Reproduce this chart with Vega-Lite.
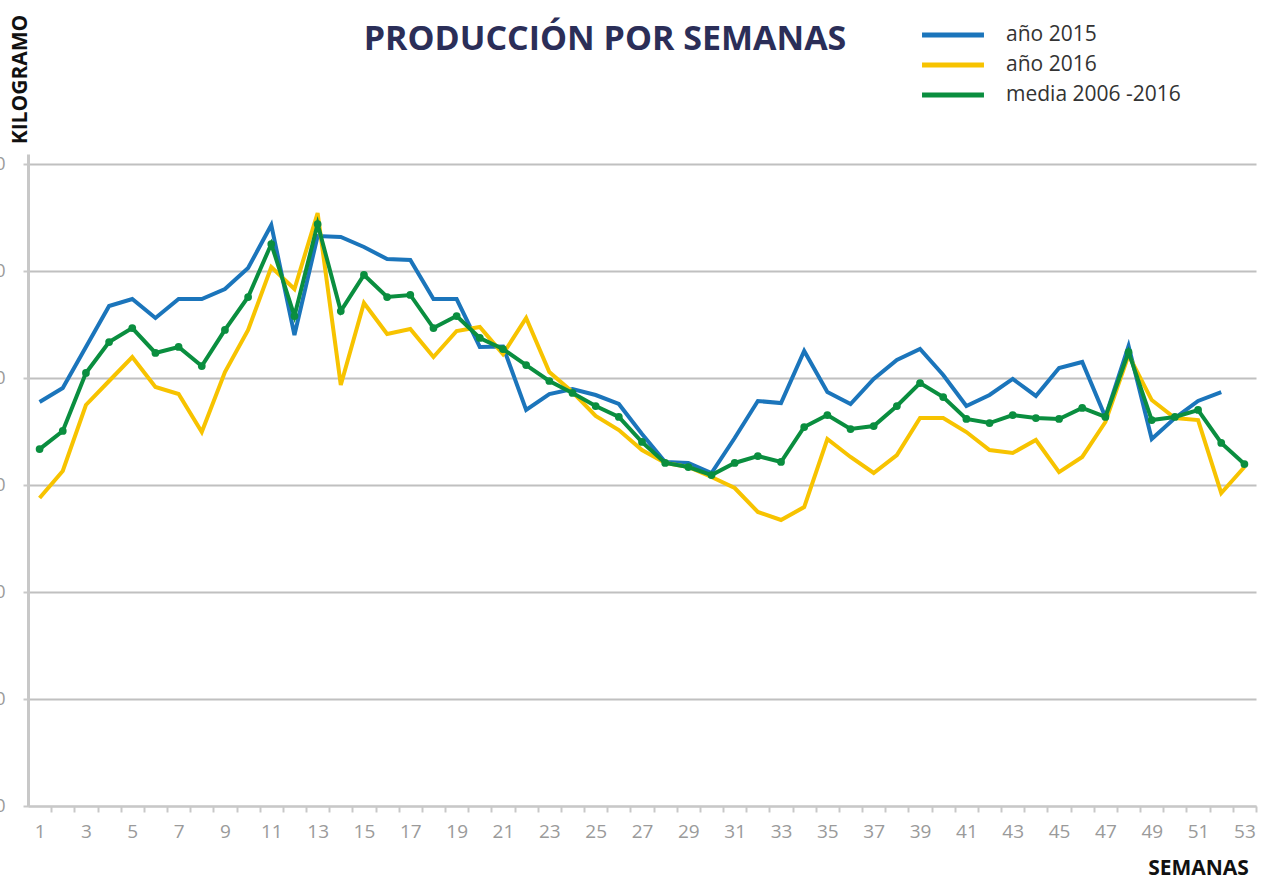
{
  "$schema": "https://vega.github.io/schema/vega-lite/v6.json",
  "width": 1228,
  "height": 652,
  "autosize": {"type": "none"},
  "padding": {"left": 28, "top": 154, "right": 18, "bottom": 75},
  "background": "white",
  "title": {
    "text": "PRODUCCIÓN POR SEMANAS",
    "anchor": "middle",
    "frame": "group",
    "offset": -70,
    "dx": -37,
    "baseline": "alphabetic",
    "font": "Open Sans",
    "fontSize": 34,
    "fontWeight": "bold",
    "color": "#2b2e58"
  },
  "data": {
    "values": [
      {"semana": 1, "serie": "año 2015", "valor": 377.6},
      {"semana": 2, "serie": "año 2015", "valor": 390.7},
      {"semana": 3, "serie": "año 2015", "valor": 429.0},
      {"semana": 4, "serie": "año 2015", "valor": 467.3},
      {"semana": 5, "serie": "año 2015", "valor": 473.8},
      {"semana": 6, "serie": "año 2015", "valor": 456.1},
      {"semana": 7, "serie": "año 2015", "valor": 473.8},
      {"semana": 8, "serie": "año 2015", "valor": 473.8},
      {"semana": 9, "serie": "año 2015", "valor": 483.2},
      {"semana": 10, "serie": "año 2015", "valor": 502.8},
      {"semana": 11, "serie": "año 2015", "valor": 543.0},
      {"semana": 12, "serie": "año 2015", "valor": 440.2},
      {"semana": 13, "serie": "año 2015", "valor": 532.7},
      {"semana": 14, "serie": "año 2015", "valor": 531.8},
      {"semana": 15, "serie": "año 2015", "valor": 522.4},
      {"semana": 16, "serie": "año 2015", "valor": 511.2},
      {"semana": 17, "serie": "año 2015", "valor": 510.3},
      {"semana": 18, "serie": "año 2015", "valor": 473.8},
      {"semana": 19, "serie": "año 2015", "valor": 473.8},
      {"semana": 20, "serie": "año 2015", "valor": 429.0},
      {"semana": 21, "serie": "año 2015", "valor": 429.5},
      {"semana": 22, "serie": "año 2015", "valor": 370.1},
      {"semana": 23, "serie": "año 2015", "valor": 385.0},
      {"semana": 24, "serie": "año 2015", "valor": 389.7},
      {"semana": 25, "serie": "año 2015", "valor": 384.1},
      {"semana": 26, "serie": "año 2015", "valor": 375.7},
      {"semana": 27, "serie": "año 2015", "valor": 347.7},
      {"semana": 28, "serie": "año 2015", "valor": 321.5},
      {"semana": 29, "serie": "año 2015", "valor": 320.6},
      {"semana": 30, "serie": "año 2015", "valor": 311.2},
      {"semana": 31, "serie": "año 2015", "valor": 343.9},
      {"semana": 32, "serie": "año 2015", "valor": 378.5},
      {"semana": 33, "serie": "año 2015", "valor": 376.6},
      {"semana": 34, "serie": "año 2015", "valor": 425.2},
      {"semana": 35, "serie": "año 2015", "valor": 386.9},
      {"semana": 36, "serie": "año 2015", "valor": 375.7},
      {"semana": 37, "serie": "año 2015", "valor": 399.1},
      {"semana": 38, "serie": "año 2015", "valor": 416.8},
      {"semana": 39, "serie": "año 2015", "valor": 427.1},
      {"semana": 40, "serie": "año 2015", "valor": 402.8},
      {"semana": 41, "serie": "año 2015", "valor": 373.8},
      {"semana": 42, "serie": "año 2015", "valor": 384.1},
      {"semana": 43, "serie": "año 2015", "valor": 399.1},
      {"semana": 44, "serie": "año 2015", "valor": 383.2},
      {"semana": 45, "serie": "año 2015", "valor": 409.3},
      {"semana": 46, "serie": "año 2015", "valor": 415.0},
      {"semana": 47, "serie": "año 2015", "valor": 363.6},
      {"semana": 48, "serie": "año 2015", "valor": 429.9},
      {"semana": 49, "serie": "año 2015", "valor": 343.0},
      {"semana": 50, "serie": "año 2015", "valor": 362.6},
      {"semana": 51, "serie": "año 2015", "valor": 378.5},
      {"semana": 52, "serie": "año 2015", "valor": 386.9},
      {"semana": 1, "serie": "año 2016", "valor": 287.9},
      {"semana": 2, "serie": "año 2016", "valor": 313.1},
      {"semana": 3, "serie": "año 2016", "valor": 374.8},
      {"semana": 4, "serie": "año 2016", "valor": 397.2},
      {"semana": 5, "serie": "año 2016", "valor": 419.6},
      {"semana": 6, "serie": "año 2016", "valor": 391.6},
      {"semana": 7, "serie": "año 2016", "valor": 385.0},
      {"semana": 8, "serie": "año 2016", "valor": 349.5},
      {"semana": 9, "serie": "año 2016", "valor": 405.6},
      {"semana": 10, "serie": "año 2016", "valor": 444.9},
      {"semana": 11, "serie": "año 2016", "valor": 503.7},
      {"semana": 12, "serie": "año 2016", "valor": 483.2},
      {"semana": 13, "serie": "año 2016", "valor": 554.2},
      {"semana": 14, "serie": "año 2016", "valor": 393.5},
      {"semana": 15, "serie": "año 2016", "valor": 470.1},
      {"semana": 16, "serie": "año 2016", "valor": 441.1},
      {"semana": 17, "serie": "año 2016", "valor": 445.8},
      {"semana": 18, "serie": "año 2016", "valor": 419.6},
      {"semana": 19, "serie": "año 2016", "valor": 443.9},
      {"semana": 20, "serie": "año 2016", "valor": 447.7},
      {"semana": 21, "serie": "año 2016", "valor": 422.4},
      {"semana": 22, "serie": "año 2016", "valor": 456.1},
      {"semana": 23, "serie": "año 2016", "valor": 405.6},
      {"semana": 24, "serie": "año 2016", "valor": 386.9},
      {"semana": 25, "serie": "año 2016", "valor": 364.5},
      {"semana": 26, "serie": "año 2016", "valor": 351.4},
      {"semana": 27, "serie": "año 2016", "valor": 332.7},
      {"semana": 28, "serie": "año 2016", "valor": 320.6},
      {"semana": 29, "serie": "año 2016", "valor": 316.8},
      {"semana": 30, "serie": "año 2016", "valor": 307.5},
      {"semana": 31, "serie": "año 2016", "valor": 297.2},
      {"semana": 32, "serie": "año 2016", "valor": 274.8},
      {"semana": 33, "serie": "año 2016", "valor": 267.3},
      {"semana": 34, "serie": "año 2016", "valor": 279.4},
      {"semana": 35, "serie": "año 2016", "valor": 343.0},
      {"semana": 36, "serie": "año 2016", "valor": 326.2},
      {"semana": 37, "serie": "año 2016", "valor": 311.2},
      {"semana": 38, "serie": "año 2016", "valor": 328.0},
      {"semana": 39, "serie": "año 2016", "valor": 362.6},
      {"semana": 40, "serie": "año 2016", "valor": 362.6},
      {"semana": 41, "serie": "año 2016", "valor": 349.5},
      {"semana": 42, "serie": "año 2016", "valor": 332.7},
      {"semana": 43, "serie": "año 2016", "valor": 329.9},
      {"semana": 44, "serie": "año 2016", "valor": 342.1},
      {"semana": 45, "serie": "año 2016", "valor": 312.1},
      {"semana": 46, "serie": "año 2016", "valor": 326.2},
      {"semana": 47, "serie": "año 2016", "valor": 358.9},
      {"semana": 48, "serie": "año 2016", "valor": 421.5},
      {"semana": 49, "serie": "año 2016", "valor": 379.4},
      {"semana": 50, "serie": "año 2016", "valor": 362.6},
      {"semana": 51, "serie": "año 2016", "valor": 360.7},
      {"semana": 52, "serie": "año 2016", "valor": 292.5},
      {"semana": 53, "serie": "año 2016", "valor": 316.8},
      {"semana": 1, "serie": "media 2006 -2016", "valor": 333.6},
      {"semana": 2, "serie": "media 2006 -2016", "valor": 350.5},
      {"semana": 3, "serie": "media 2006 -2016", "valor": 404.7},
      {"semana": 4, "serie": "media 2006 -2016", "valor": 433.6},
      {"semana": 5, "serie": "media 2006 -2016", "valor": 446.7},
      {"semana": 6, "serie": "media 2006 -2016", "valor": 423.4},
      {"semana": 7, "serie": "media 2006 -2016", "valor": 429.0},
      {"semana": 8, "serie": "media 2006 -2016", "valor": 411.2},
      {"semana": 9, "serie": "media 2006 -2016", "valor": 444.9},
      {"semana": 10, "serie": "media 2006 -2016", "valor": 475.7},
      {"semana": 11, "serie": "media 2006 -2016", "valor": 525.2},
      {"semana": 12, "serie": "media 2006 -2016", "valor": 457.9},
      {"semana": 13, "serie": "media 2006 -2016", "valor": 543.9},
      {"semana": 14, "serie": "media 2006 -2016", "valor": 462.6},
      {"semana": 15, "serie": "media 2006 -2016", "valor": 496.3},
      {"semana": 16, "serie": "media 2006 -2016", "valor": 475.7},
      {"semana": 17, "serie": "media 2006 -2016", "valor": 477.6},
      {"semana": 18, "serie": "media 2006 -2016", "valor": 446.7},
      {"semana": 19, "serie": "media 2006 -2016", "valor": 457.9},
      {"semana": 20, "serie": "media 2006 -2016", "valor": 437.4},
      {"semana": 21, "serie": "media 2006 -2016", "valor": 427.1},
      {"semana": 22, "serie": "media 2006 -2016", "valor": 412.1},
      {"semana": 23, "serie": "media 2006 -2016", "valor": 397.2},
      {"semana": 24, "serie": "media 2006 -2016", "valor": 386.0},
      {"semana": 25, "serie": "media 2006 -2016", "valor": 373.8},
      {"semana": 26, "serie": "media 2006 -2016", "valor": 363.6},
      {"semana": 27, "serie": "media 2006 -2016", "valor": 340.2},
      {"semana": 28, "serie": "media 2006 -2016", "valor": 320.6},
      {"semana": 29, "serie": "media 2006 -2016", "valor": 316.8},
      {"semana": 30, "serie": "media 2006 -2016", "valor": 309.3},
      {"semana": 31, "serie": "media 2006 -2016", "valor": 320.6},
      {"semana": 32, "serie": "media 2006 -2016", "valor": 327.1},
      {"semana": 33, "serie": "media 2006 -2016", "valor": 321.5},
      {"semana": 34, "serie": "media 2006 -2016", "valor": 354.2},
      {"semana": 35, "serie": "media 2006 -2016", "valor": 365.4},
      {"semana": 36, "serie": "media 2006 -2016", "valor": 352.3},
      {"semana": 37, "serie": "media 2006 -2016", "valor": 355.1},
      {"semana": 38, "serie": "media 2006 -2016", "valor": 373.8},
      {"semana": 39, "serie": "media 2006 -2016", "valor": 395.3},
      {"semana": 40, "serie": "media 2006 -2016", "valor": 382.2},
      {"semana": 41, "serie": "media 2006 -2016", "valor": 361.7},
      {"semana": 42, "serie": "media 2006 -2016", "valor": 357.9},
      {"semana": 43, "serie": "media 2006 -2016", "valor": 365.4},
      {"semana": 44, "serie": "media 2006 -2016", "valor": 362.6},
      {"semana": 45, "serie": "media 2006 -2016", "valor": 361.7},
      {"semana": 46, "serie": "media 2006 -2016", "valor": 372.0},
      {"semana": 47, "serie": "media 2006 -2016", "valor": 363.6},
      {"semana": 48, "serie": "media 2006 -2016", "valor": 424.3},
      {"semana": 49, "serie": "media 2006 -2016", "valor": 360.7},
      {"semana": 50, "serie": "media 2006 -2016", "valor": 363.6},
      {"semana": 51, "serie": "media 2006 -2016", "valor": 370.1},
      {"semana": 52, "serie": "media 2006 -2016", "valor": 339.3},
      {"semana": 53, "serie": "media 2006 -2016", "valor": 319.6}
    ]
  },
  "encoding": {
    "x": {
      "field": "semana",
      "type": "ordinal",
      "sort": "ascending",
      "scale": {"type": "point", "padding": 0.5, "domain": [1,2,3,4,5,6,7,8,9,10,11,12,13,14,15,16,17,18,19,20,21,22,23,24,25,26,27,28,29,30,31,32,33,34,35,36,37,38,39,40,41,42,43,44,45,46,47,48,49,50,51,52,53]},
      "axis": {
        "title": "SEMANAS",
        "titleX": 1170,
        "titleY": 62,
        "titleAlign": "center",
        "titleBaseline": "middle",
        "titleFont": "Open Sans",
        "titleFontSize": 21,
        "titleFontWeight": "bold",
        "titleColor": "#111111",
        "labelAngle": 0,
        "labelExpr": "datum.value % 2 == 1 ? datum.label : ''",
        "labelOverlap": false,
        "labelFont": "Open Sans",
        "labelFontSize": 19,
        "labelColor": "#9a9a9a",
        "labelPadding": 10,
        "tickOffset": 11.585,
        "labelOffset": -11.585,
        "tickSize": 6,
        "tickColor": "#c8c8c8",
        "tickWidth": 2,
        "domainColor": "#c8c8c8",
        "domainWidth": 2,
        "grid": false
      }
    },
    "y": {
      "field": "valor",
      "type": "quantitative",
      "scale": {"domain": [0, 609.35], "nice": false},
      "axis": {
        "title": "KILOGRAMO",
        "titleAngle": 270,
        "titleX": -8,
        "titleY": -75,
        "titleAlign": "center",
        "titleBaseline": "middle",
        "titleFont": "Open Sans",
        "titleFontSize": 21,
        "titleFontWeight": "bold",
        "titleColor": "#111111",
        "values": [0, 100, 200, 300, 400, 500, 600],
        "labelFont": "Open Sans",
        "labelFontSize": 18,
        "labelColor": "#9a9a9a",
        "labelPadding": 18,
        "tickSize": 5,
        "tickColor": "#c8c8c8",
        "tickWidth": 2,
        "domainColor": "#c8c8c8",
        "domainWidth": 3,
        "grid": true,
        "gridColor": "#c0c0c0",
        "gridWidth": 2
      }
    }
  },
  "layer": [
    {
      "mark": {"type": "line", "strokeWidth": 4, "strokeJoin": "miter"},
      "encoding": {
        "color": {
          "field": "serie",
          "type": "nominal",
          "scale": {"domain": ["año 2015", "año 2016", "media 2006 -2016"], "range": ["#1b75bb", "#f7c300", "#0a8e3f"]},
          "legend": {
            "title": null,
            "orient": "none",
            "legendX": 912,
            "legendY": -132,
            "symbolType": "M-2.95,0H2.95",
            "symbolSize": 441,
            "symbolStrokeWidth": 5,
            "labelFont": "Open Sans",
            "labelFontSize": 21,
            "labelColor": "#333333",
            "labelOffset": 40,
            "labelLimit": 400,
            "rowPadding": 7
          }
        }
      }
    },
    {
      "transform": [{"filter": "datum.serie == 'media 2006 -2016'"}],
      "mark": {"type": "point", "filled": true, "opacity": 1, "size": 60, "color": "#0a8e3f"},
      "encoding": {}
    }
  ],
  "config": {"view": {"stroke": null}}
}
